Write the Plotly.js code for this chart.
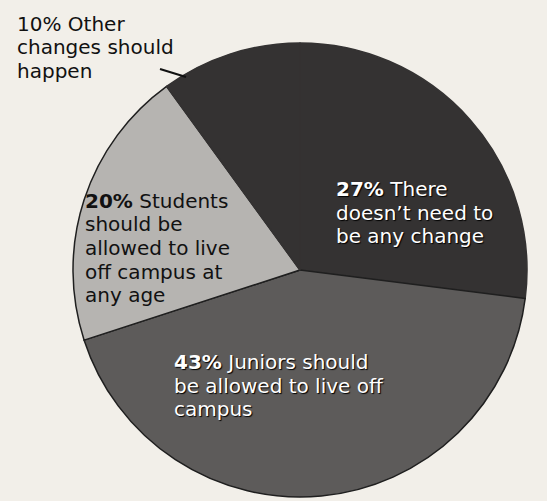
<!DOCTYPE html>
<html>
<head>
<meta charset="utf-8">
<script src="https://cdn.plot.ly/plotly-3.0.1.min.js"></script>
<style>
  html, body { margin: 0; padding: 0; background: #f2efe9; }
  #chart { width: 547px; height: 501px; }
</style>
</head>
<body>
<div id="chart"></div>
<script>
// ---- data ----
const categories = [
  "There doesn't need to be any change",
  "Juniors should be allowed to live off campus",
  "Students should be allowed to live off campus at any age",
  "Other changes should happen"
];
const percents = [27, 43, 20, 10];
const labelLines = [
  ["There", "doesn\u2019t need to", "be any change"],
  ["Juniors should", "be allowed to live off", "campus"],
  ["Students", "should be", "allowed to live", "off campus at", "any age"],
  ["Other", "changes should", "happen"]
];

// ---- style ----
const W = 547, H = 501;
const sliceColors = ["#343232", "#5d5b5a", "#b6b4b1", "#343232"];
const sliceLineColors = ["#343232", "#1f1f1f", "#1f1f1f", "#343232"];
const boldPct = [true, true, true, false];
const textColors = ["#ffffff", "#ffffff", "#111111", "#111111"];
const labelPos = [ // left x, first baseline y (pixels)
  [336, 196],
  [174, 369],
  [85, 208],
  [17, 31]
];
const lineGap = 23.5;
const fontSize = 20;
const fontFamily = "DejaVu Sans, Liberation Sans, Arial, sans-serif";

const cx = 300, cy = 270, r = 227;

const annotations = [];
percents.forEach((p, i) => {
  labelLines[i].forEach((ln, j) => {
    let txt = ln;
    if (j === 0) txt = (boldPct[i] ? "<b>" + p + "%</b>" : p + "%") + " " + ln;
    const base = labelPos[i][1] + j * lineGap;
    annotations.push({
      xref: "paper", yref: "paper",
      x: labelPos[i][0] / W,
      y: 1 - (base - 7) / H,
      xanchor: "left", yanchor: "middle",
      showarrow: false,
      borderpad: 0, borderwidth: 0,
      text: txt,
      font: {
        family: fontFamily,
        size: fontSize,
        color: textColors[i],
        shadow: textColors[i] === "#ffffff" ? "1px 1px 1px #000" : "none"
      }
    });
  });
});

const trace = {
  type: "pie",
  labels: categories,
  values: percents,
  sort: false,
  direction: "clockwise",
  rotation: 0,
  textinfo: "none",
  hoverinfo: "label+percent",
  marker: { colors: sliceColors, line: { color: sliceLineColors, width: 1.5 } },
  domain: { x: [(cx - r) / W, (cx + r) / W], y: [1 - (cy + r) / H, 1 - (cy - r) / H] },
  showlegend: false
};

const layout = {
  width: W, height: H,
  margin: { l: 0, r: 0, t: 0, b: 0 },
  paper_bgcolor: "#f2efe9",
  plot_bgcolor: "#f2efe9",
  showlegend: false,
  annotations: annotations,
  shapes: [{
    type: "line", xref: "paper", yref: "paper",
    x0: 160 / W, y0: 1 - 69 / H, x1: 186 / W, y1: 1 - 77 / H,
    line: { color: "#111111", width: 2 }
  }]
};

Plotly.newPlot("chart", [trace], layout, { displayModeBar: false, staticPlot: true });
</script>
</body>
</html>
